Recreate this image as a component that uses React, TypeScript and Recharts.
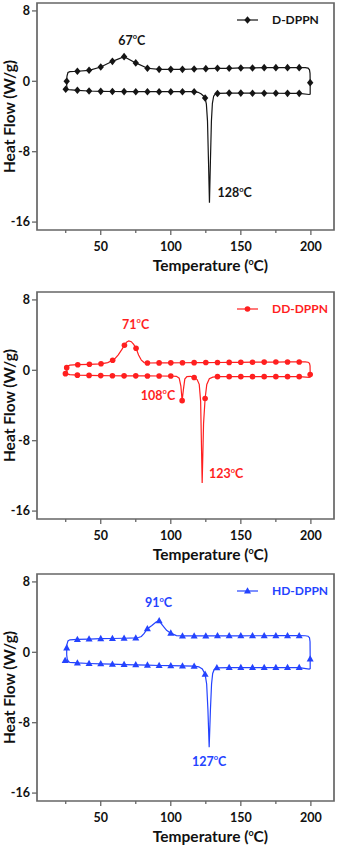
import React from 'react';
import { ComposedChart, Line, Scatter, XAxis, YAxis, ReferenceArea, Legend, Label } from 'recharts';

type Pt = [number, number];

const xTicks = [25, 50, 75, 100, 125, 150, 175, 200];
const xLabeled = [50, 100, 150, 200];
const yTicks = [-16, -8, 0, 8];
const xDomain: [number, number] = [4.5, 216.5];
const yDomain: [number, number] = [-16.9, 8.9];

// D-DPPN: lower trace, right edge, upper trace, left edge
const dCurve: Pt[] = [
  [25, -0.91], [33.33, -1.02], [41.67, -1.1], [50, -1.14], [58.33, -1.16], [66.67, -1.17], [75, -1.18],
  [83.33, -1.18], [91.67, -1.18], [100, -1.18], [108.33, -1.18], [116.67, -1.18], [119.5, -1.25],
  [121.8, -1.45], [123.5, -1.7], [124.5, -1.9], [125.4, -2.6], [126.2, -4.5], [126.9, -9], [127.6, -13.8],
  [128.3, -9], [129, -4.5], [129.7, -2.5], [130.6, -1.7], [131.7, -1.45], [133.33, -1.38], [141.67, -1.34],
  [150, -1.34], [158.33, -1.35], [166.67, -1.35], [175, -1.36], [183.33, -1.37], [191.67, -1.37],
  [198.8, -1.5], [199.5, -1.45], [199.5, -0.15], [199.4, 0.9], [199, 1.3], [198, 1.5], [196, 1.55],
  [191.67, 1.55], [183.33, 1.55], [175, 1.55], [166.67, 1.55], [158.33, 1.52], [150, 1.52], [141.67, 1.48],
  [133.33, 1.48], [125, 1.44], [116.67, 1.4], [108.33, 1.36], [100, 1.36], [91.67, 1.36], [83.33, 1.48],
  [75, 2.09], [66.67, 2.8], [58.33, 2.27], [50, 1.63], [41.67, 1.25], [33.33, 1.14], [28, 1.1],
  [26.6, 1.0], [25.9, 0.6], [25.7, 0], [25.7, -0.5], [26.1, -0.8], [27, -0.95],
];
const dMarkers: Pt[] = [
  [25, -0.91], [33.33, -1.02], [41.67, -1.1], [50, -1.14], [58.33, -1.16], [66.67, -1.17], [75, -1.18],
  [83.33, -1.18], [91.67, -1.18], [100, -1.18], [108.33, -1.18], [116.67, -1.18], [124.5, -1.9],
  [133.33, -1.38], [141.67, -1.34], [150, -1.34], [158.33, -1.35], [166.67, -1.35], [175, -1.36],
  [183.33, -1.37], [191.67, -1.37], [199.5, -0.15], [191.67, 1.55], [183.33, 1.55], [175, 1.55],
  [166.67, 1.55], [158.33, 1.52], [150, 1.52], [141.67, 1.48], [133.33, 1.48], [125, 1.44], [116.67, 1.4],
  [108.33, 1.36], [100, 1.36], [91.67, 1.36], [83.33, 1.48], [75, 2.09], [66.67, 2.8], [58.33, 2.27],
  [50, 1.63], [41.67, 1.25], [33.33, 1.14], [25.7, 0],
];
const dNotes = [
  { t: 72.1, hf: 4.15, text: '67' },
  { t: 145.6, hf: -13.2, text: '128' },
];

// DD-DPPN
const ddCurve: Pt[] = [
  [24.8, -0.38], [28, -0.5], [33.33, -0.55], [41.67, -0.58], [50, -0.6], [58.33, -0.62], [66.67, -0.63],
  [75, -0.63], [83.33, -0.64], [91.67, -0.65], [100, -0.65], [104, -0.68], [106, -0.9], [107.2, -1.8],
  [108.1, -3.45], [109, -2.2], [110, -1.0], [111.5, -0.72], [114, -0.68], [116.67, -0.82], [118.8, -1.05],
  [120.3, -1.6], [121.3, -3.5], [122.4, -12.8], [123.4, -6], [124.5, -3.2], [125.7, -1.6], [127.5, -0.95],
  [130, -0.78], [133.33, -0.72], [141.67, -0.72], [150, -0.72], [158.33, -0.72], [166.67, -0.72],
  [175, -0.72], [183.33, -0.72], [191.67, -0.72], [198.8, -0.8], [199.5, -0.75], [199.5, -0.49],
  [199.4, 0.5], [199, 0.8], [198, 0.92], [196, 0.95], [191.67, 0.95], [183.33, 0.95], [175, 0.94],
  [166.67, 0.93], [158.33, 0.92], [150, 0.91], [141.67, 0.9], [133.33, 0.89], [125, 0.88], [116.67, 0.87],
  [108.33, 0.86], [100, 0.85], [91.67, 0.84], [83.33, 0.83], [81, 0.88], [79, 1.15], [77, 1.75],
  [75.2, 2.5], [73.5, 2.95], [71.8, 3.25], [70, 3.35], [68.4, 3.2], [66.9, 2.85], [65, 2.35], [62.5, 1.75],
  [60, 1.3], [58.5, 1.14], [55, 0.88], [50.2, 0.74], [41.9, 0.68], [33.6, 0.64], [28, 0.58], [26.5, 0.5],
  [25.7, 0.3], [25.8, -0.1], [26.4, -0.38], [27.5, -0.5],
];
const ddMarkers: Pt[] = [
  [24.8, -0.38], [33.33, -0.55], [41.67, -0.58], [50, -0.6], [58.33, -0.62], [66.67, -0.63], [75, -0.63],
  [83.33, -0.64], [91.67, -0.65], [100, -0.65], [108.1, -3.45], [116.67, -0.82], [124.5, -3.2],
  [133.33, -0.72], [141.67, -0.72], [150, -0.72], [158.33, -0.72], [166.67, -0.72], [175, -0.72],
  [183.33, -0.72], [191.67, -0.72], [199.5, -0.49], [191.67, 0.95], [183.33, 0.95], [175, 0.94],
  [166.67, 0.93], [158.33, 0.92], [150, 0.91], [141.67, 0.9], [133.33, 0.89], [125, 0.88], [116.67, 0.87],
  [108.33, 0.86], [100, 0.85], [91.67, 0.84], [83.33, 0.83], [75.2, 2.5], [66.9, 2.85], [58.5, 1.14],
  [50.2, 0.74], [41.9, 0.68], [33.6, 0.64], [25.7, 0.3],
];
const ddNotes = [
  { t: 74.9, hf: 4.7, text: '71' },
  { t: 90.9, hf: -3.36, text: '108' },
  { t: 139.5, hf: -12.27, text: '123' },
];

// HD-DPPN
const hdCurve: Pt[] = [
  [24.6, -0.93], [28, -1.15], [33.33, -1.21], [41.67, -1.27], [50, -1.31], [58.33, -1.35], [66.67, -1.39],
  [75, -1.42], [83.33, -1.46], [91.67, -1.5], [100, -1.52], [108.33, -1.55], [116.67, -1.58], [120, -1.65],
  [122.5, -1.9], [124.5, -2.5], [125.6, -3.6], [126.5, -6.5], [127.4, -10.8], [128.3, -6.5], [129.1, -3.6],
  [129.9, -2.4], [131, -1.95], [132.9, -1.76], [141.67, -1.73], [150, -1.73], [158.33, -1.73],
  [166.67, -1.73], [175, -1.74], [183.33, -1.74], [191.67, -1.74], [198.8, -1.9], [199.5, -1.85],
  [199.5, -0.76], [199.4, 1.2], [199, 1.65], [198, 1.83], [196, 1.88], [191.67, 1.89], [183.33, 1.89],
  [175, 1.89], [166.67, 1.88], [158.33, 1.88], [150, 1.87], [141.67, 1.87], [133.33, 1.87], [125, 1.86],
  [116.67, 1.86], [108.33, 1.86], [104, 1.9], [100, 2.18], [97, 2.5], [94, 3.1], [91.7, 3.58], [89.5, 3.45],
  [86.5, 3.05], [83.3, 2.68], [81, 2.15], [79, 1.8], [77, 1.68], [75, 1.63], [66.67, 1.6], [58.33, 1.57],
  [50, 1.55], [41.67, 1.5], [33.33, 1.46], [28, 1.42], [26.6, 1.3], [25.9, 0.9], [25.7, 0.5], [25.7, -0.3],
  [26.1, -0.8], [27.3, -1.1],
];
const hdMarkers: Pt[] = [
  [24.6, -0.93], [33.33, -1.21], [41.67, -1.27], [50, -1.31], [58.33, -1.35], [66.67, -1.39], [75, -1.42],
  [83.33, -1.46], [91.67, -1.5], [100, -1.52], [108.33, -1.55], [116.67, -1.58], [124.5, -2.5],
  [132.9, -1.76], [141.67, -1.73], [150, -1.73], [158.33, -1.73], [166.67, -1.73], [175, -1.74],
  [183.33, -1.74], [191.67, -1.74], [199.5, -0.76], [191.67, 1.89], [183.33, 1.89], [175, 1.89],
  [166.67, 1.88], [158.33, 1.88], [150, 1.87], [141.67, 1.87], [133.33, 1.87], [125, 1.86], [116.67, 1.86],
  [108.33, 1.86], [100, 2.18], [91.7, 3.58], [83.3, 2.68], [75, 1.63], [66.67, 1.6], [58.33, 1.57],
  [50, 1.55], [41.67, 1.5], [33.33, 1.46], [25.7, 0.5],
];
const hdNotes = [
  { t: 91.3, hf: 5.13, text: '91' },
  { t: 127.4, hf: -12.87, text: '127' },
];

const FONT = 'Lato, "Open Sans", sans-serif';
const FRAME = '#666';

type MarkerKind = 'diamond' | 'circle' | 'triangle';

function drawMarker(kind: MarkerKind, cx: number, cy: number, color: string) {
  if (kind === 'diamond') {
    return <polygon points={`${cx},${cy - 3.8} ${cx + 3.2},${cy} ${cx},${cy + 3.8} ${cx - 3.2},${cy}`} fill={color} />;
  }
  if (kind === 'triangle') {
    return <polygon points={`${cx},${cy - 3.8} ${cx + 3.5},${cy + 2.5} ${cx - 3.5},${cy + 2.5}`} fill={color} />;
  }
  return <circle cx={cx} cy={cy} r={2.8} fill={color} />;
}

function Degree({ x, y, value, color, size }: any) {
  return (
    <text x={x} y={y} textAnchor="middle" fill={color} fontSize={size} fontWeight={700} fontFamily={FONT}>
      {value}
      <tspan dy={-size * 0.45} fontSize={size * 0.6}>o</tspan>
      <tspan dy={size * 0.45}>C</tspan>
    </text>
  );
}

const XTick = (props: any) => {
  const { x, y, payload } = props;
  const major = xLabeled.includes(payload.value);
  return (
    <g>
      <line x1={x} x2={x} y1={y} y2={y + (major ? 5 : 3)} stroke={FRAME} strokeWidth={1.3} />
      {major && (
        <text x={x} y={y + 21} textAnchor="middle" fill="#111" fontSize={12.5} fontWeight={700} fontFamily={FONT}>
          {payload.value}
        </text>
      )}
    </g>
  );
};

const YTick = (props: any) => {
  const { x, y, payload } = props;
  return (
    <g>
      <line x1={x - 5} x2={x} y1={y} y2={y} stroke={FRAME} strokeWidth={1.3} />
      <text x={x - 7} y={y + 4.4} textAnchor="end" fill="#111" fontSize={12.5} fontWeight={700} fontFamily={FONT}>
        {payload.value}
      </text>
    </g>
  );
};

const XLabel = (props: any) => {
  const vb = props.viewBox || {};
  return (
    <text x={vb.x + vb.width / 2 + 25} y={vb.y + 41} textAnchor="middle" fill="#111" fontSize={15.5} fontWeight={700} fontFamily={FONT}>
      Temperature (
      <tspan dy={-6} fontSize={9}>o</tspan>
      <tspan dy={6}>C)</tspan>
    </text>
  );
};

const YLabel = (props: any) => {
  const vb = props.viewBox || {};
  const cy = vb.y + vb.height / 2;
  return (
    <text x={14.5} y={cy} transform={`rotate(-90 14.5 ${cy})`} textAnchor="middle" fill="#111" fontSize={15.5} fontWeight={700} fontFamily={FONT}>
      Heat Flow (W/g)
    </text>
  );
};

interface PanelProps {
  name: string;
  color: string;
  marker: MarkerKind;
  curve: Pt[];
  markers: Pt[];
  notes: { t: number; hf: number; text: string }[];
}

function Panel({ name, color, marker, curve, markers, notes }: PanelProps) {
  const curveData = curve.map(([t, hf]) => ({ t, hf }));
  const markerData = markers.map(([t, hf]) => ({ t, hf }));

  return (
    <ComposedChart width={340} height={280} margin={{ top: 3, right: 6, bottom: 0, left: 0 }}>
      <XAxis
        type="number"
        dataKey="t"
        domain={xDomain}
        ticks={xTicks}
        interval={0}
        tickSize={0}
        tickMargin={0}
        tick={XTick}
        axisLine={false}
        tickLine={false}
        height={50}
      >
        <Label content={XLabel} />
      </XAxis>
      <YAxis
        type="number"
        dataKey="hf"
        domain={yDomain}
        ticks={yTicks}
        interval={0}
        tickSize={0}
        tickMargin={0}
        tick={YTick}
        axisLine={false}
        tickLine={false}
        width={37}
      >
        <Label content={YLabel} />
      </YAxis>
      <ReferenceArea
        x1={xDomain[0]}
        x2={xDomain[1]}
        y1={yDomain[0]}
        y2={yDomain[1]}
        fill="none"
        fillOpacity={0}
        stroke={FRAME}
        strokeWidth={1.7}
        ifOverflow="visible"
      />
      <Line
        data={curveData}
        dataKey="hf"
        type="linear"
        stroke={color}
        strokeWidth={1.2}
        dot={false}
        activeDot={false}
        isAnimationActive={false}
      />
      <Scatter
        data={markerData}
        dataKey="hf"
        fill={color}
        isAnimationActive={false}
        shape={(p: any) => drawMarker(marker, p.cx, p.cy, color)}
      />
      <Scatter
        data={notes}
        dataKey="hf"
        isAnimationActive={false}
        shape={(p: any) => <Degree x={p.cx} y={p.cy} value={p.payload.text} color={color} size={12.5} />}
      />
      <Legend
        layout="vertical"
        align="center"
        verticalAlign="middle"
        wrapperStyle={{ top: 13, left: 232, width: 108, height: 14 }}
        content={() => (
          <svg width={108} height={14} style={{ display: 'block' }}>
            <line x1={5} x2={26} y1={7} y2={7} stroke={color} strokeWidth={1.2} />
            {drawMarker(marker, 15.5, 7, color)}
            <text x={40} y={11.3} fill={color} fontSize={12} fontWeight={700} fontFamily={FONT}>
              {name}
            </text>
          </svg>
        )}
      />
    </ComposedChart>
  );
}

export default function App() {
  return (
    <div style={{ position: 'absolute', left: 0, top: 0, width: 340, height: 847, background: '#fff' }}>
      <div style={{ position: 'absolute', left: 0, top: 0 }}>
        <Panel name="D-DPPN" color="#151515" marker="diamond" curve={dCurve} markers={dMarkers} notes={dNotes} />
      </div>
      <div style={{ position: 'absolute', left: 0, top: 289 }}>
        <Panel name="DD-DPPN" color="#ff1f1f" marker="circle" curve={ddCurve} markers={ddMarkers} notes={ddNotes} />
      </div>
      <div style={{ position: 'absolute', left: 0, top: 571 }}>
        <Panel name="HD-DPPN" color="#2443ff" marker="triangle" curve={hdCurve} markers={hdMarkers} notes={hdNotes} />
      </div>
    </div>
  );
}
